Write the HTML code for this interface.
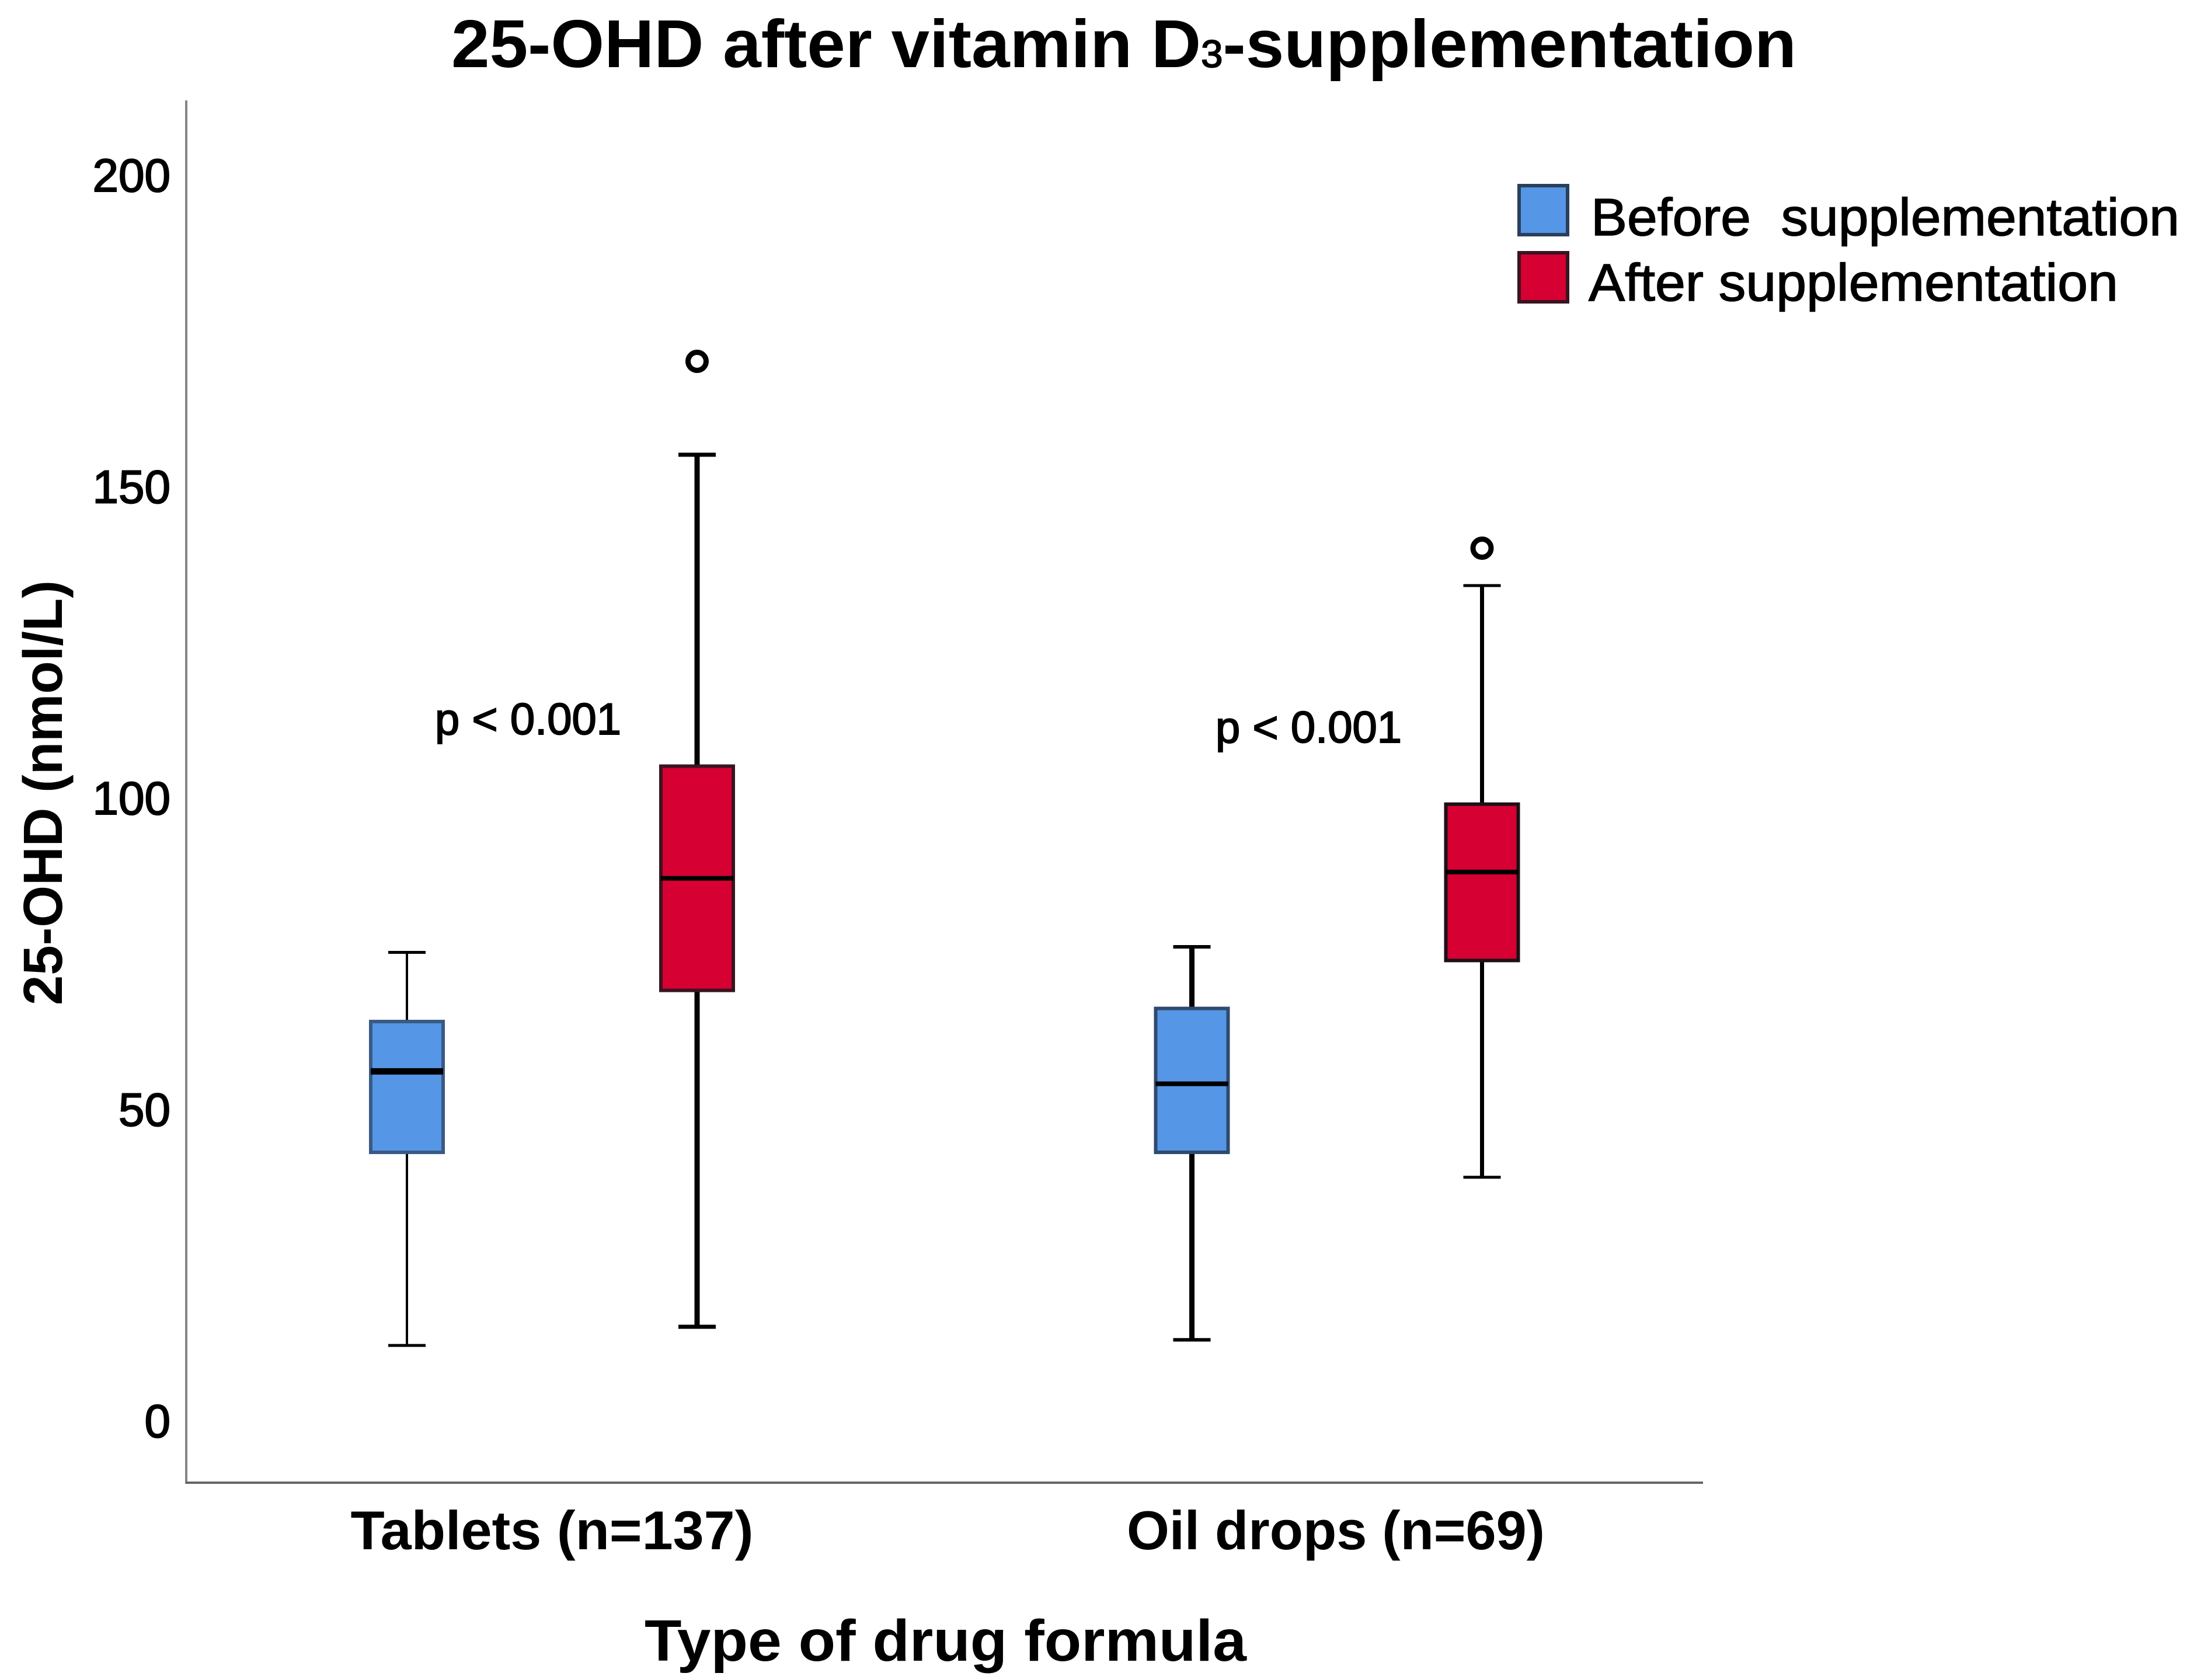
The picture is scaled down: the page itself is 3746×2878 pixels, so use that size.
<!DOCTYPE html>
<html lang="en">
<head>
<meta charset="utf-8">
<title>25-OHD after vitamin D3-supplementation</title>
<style>
html,body{margin:0;padding:0;background:#fff;}
svg{display:block;}
text{font-family:"Liberation Sans",Arial,sans-serif;fill:#000;}
</style>
</head>
<body>
<svg id="chart" xmlns="http://www.w3.org/2000/svg" width="3746" height="2878" viewBox="0 0 3746 2878">
  <rect x="0" y="0" width="3746" height="2878" fill="#ffffff"/>
  <text x="773" y="115" font-size="116" font-weight="700" textLength="2304" lengthAdjust="spacingAndGlyphs">25-OHD after vitamin D<tspan font-size="66" font-weight="400" stroke="#000" stroke-width="2">3</tspan>-supplementation</text>

  <line x1="319" y1="172" x2="319" y2="2542" stroke="#868686" stroke-width="4"/>
  <line x1="318" y1="2540" x2="2917" y2="2540" stroke="#666666" stroke-width="4"/>

  <text transform="translate(106 1722) rotate(-90)" x="0" y="0" font-size="95" font-weight="700" textLength="728" lengthAdjust="spacingAndGlyphs">25-OHD (nmol/L)</text>
  <text x="1104" y="2845" font-size="100" font-weight="700" textLength="1031" lengthAdjust="spacingAndGlyphs">Type of drug formula</text>

  <text x="745" y="1258" font-size="76" stroke="#000" stroke-width="2" textLength="319" lengthAdjust="spacingAndGlyphs">p &lt; 0.001</text>
  <text x="2082" y="1272" font-size="76" stroke="#000" stroke-width="2" textLength="319" lengthAdjust="spacingAndGlyphs">p &lt; 0.001</text>

  <g id="marks"></g>
  <g id="y-ticks"></g>
  <g id="x-ticks"></g>

  <g>
    <g>
      <rect x="2602" y="318" width="83" height="84" fill="#5596e6" stroke="#2a3f5c" stroke-width="6"/>
      <text x="2725" y="403" font-size="90" stroke="#000" stroke-width="1.5" textLength="1008" lengthAdjust="spacingAndGlyphs" xml:space="preserve">Before  supplementation</text>
    </g>
    <g>
      <rect x="2602" y="433" width="83" height="84" fill="#d60032" stroke="#3a1420" stroke-width="6"/>
      <text x="2721" y="515" font-size="90" stroke="#000" stroke-width="1.5" textLength="907" lengthAdjust="spacingAndGlyphs">After supplementation</text>
    </g>
  </g>
</svg>

<script>
// Chart data
const categories = ['Tablets (n=137)', 'Oil drops (n=69)'];
const seriesNames = ['before', 'after'];
const yTickLabels = [0, 50, 100, 150, 200];

const beforeWhiskerLow = [12.2, 13.1];
const beforeQ1 = [43.2, 43.2];
const beforeMedian = [56.2, 54.2];
const beforeQ3 = [64.2, 66.3];
const beforeWhiskerHigh = [75.3, 76.2];

const afterWhiskerLow = [15.2, 39.2];
const afterQ1 = [69.2, 74];
const afterMedian = [87.2, 88.2];
const afterQ3 = [105.2, 99.1];
const afterWhiskerHigh = [155.2, 134.2];
const afterOutlier = [170.2, 140.2];

// Axis functions
function yScale(v) { return 2435 - v * 10.67; }
function xScale(categoryIndex) { return 945.5 + 1344.5 * categoryIndex; }
function seriesOffset(seriesIndex) { return seriesIndex === 0 ? -248.5 : 248.5; }

// Per-mark styling (separate from the data)
const whiskerStroke = { before: [4, 9], after: [9, 7] };
const medianStroke = { before: [11, 8], after: [8, 8] };
const capStroke = { before: [5, 6], after: [7, 5] };
const boxColors = { before: '#5596e6', after: '#d60032' };
const boxEdges = { before: ['#3a5a85', '#2f4a6e'], after: ['#3a1420', '#1c1016'] };
const categoryLabelLengths = [690, 716];

const SVG_NS = 'http://www.w3.org/2000/svg';
const marks = document.getElementById('marks');
const yTicksGroup = document.getElementById('y-ticks');
const xTicksGroup = document.getElementById('x-ticks');

function make(tag, parent, attrs) {
  const el = document.createElementNS(SVG_NS, tag);
  Object.keys(attrs).forEach(function (k) { el.setAttribute(k, attrs[k]); });
  parent.appendChild(el);
  return el;
}

function drawBox(categoryIndex, seriesIndex, low, q1, median, q3, high, outlier) {
  const series = seriesNames[seriesIndex];
  const cx = xScale(categoryIndex) + seriesOffset(seriesIndex);
  const boxW = 124;
  const capHalf = 32;
  const wStroke = whiskerStroke[series][categoryIndex];
  const capW = capStroke[series][categoryIndex];
  const slug = series + '-' + (categoryIndex === 0 ? 'tablets' : 'oil-drops');

  const group = make('g', marks, {});
  
  

  const whiskerUp = make('line', group, { x1: cx, x2: cx, y1: yScale(q3), y2: yScale(high), stroke: '#000', 'stroke-width': wStroke });
  
  

  const whiskerDown = make('line', group, { x1: cx, x2: cx, y1: yScale(q1), y2: yScale(low), stroke: '#000', 'stroke-width': wStroke });
  
  

  const capUp = make('line', group, { x1: cx - capHalf, x2: cx + capHalf, y1: yScale(high), y2: yScale(high), stroke: '#000', 'stroke-width': capW });
  
  

  const capDown = make('line', group, { x1: cx - capHalf, x2: cx + capHalf, y1: yScale(low), y2: yScale(low), stroke: '#000', 'stroke-width': capW });
  
  

  const box = make('rect', group, {
    x: cx - boxW / 2, y: yScale(q3), width: boxW, height: yScale(q1) - yScale(q3),
    fill: boxColors[series], stroke: boxEdges[series][categoryIndex], 'stroke-width': 6
  });
  
  

  const med = make('line', group, {
    x1: cx - boxW / 2, x2: cx + boxW / 2, y1: yScale(median), y2: yScale(median),
    stroke: '#000', 'stroke-width': medianStroke[series][categoryIndex]
  });
  
  

  if (outlier !== null) {
    const dot = make('circle', group, { cx: cx, cy: yScale(outlier), r: 15.5, fill: '#fff', stroke: '#000', 'stroke-width': 9 });
    
    
  }
}

categories.forEach(function (name, i) {
  drawBox(i, 0, beforeWhiskerLow[i], beforeQ1[i], beforeMedian[i], beforeQ3[i], beforeWhiskerHigh[i], null);
  drawBox(i, 1, afterWhiskerLow[i], afterQ1[i], afterMedian[i], afterQ3[i], afterWhiskerHigh[i], afterOutlier[i]);

  const label = make('text', xTicksGroup, {
    x: xScale(i) - 2 * i, y: 2654, 'font-size': 94, 'font-weight': 700, 'text-anchor': 'middle',
    textLength: categoryLabelLengths[i], lengthAdjust: 'spacingAndGlyphs'
  });
  
  
  label.textContent = name;
});

yTickLabels.forEach(function (value) {
  const tick = make('text', yTicksGroup, {
    x: 292, y: yScale(value) + 27, 'font-size': 80, 'text-anchor': 'end', stroke: '#000', 'stroke-width': 2
  });
  
  
  tick.textContent = String(value);
});
</script>
</body>
</html>
